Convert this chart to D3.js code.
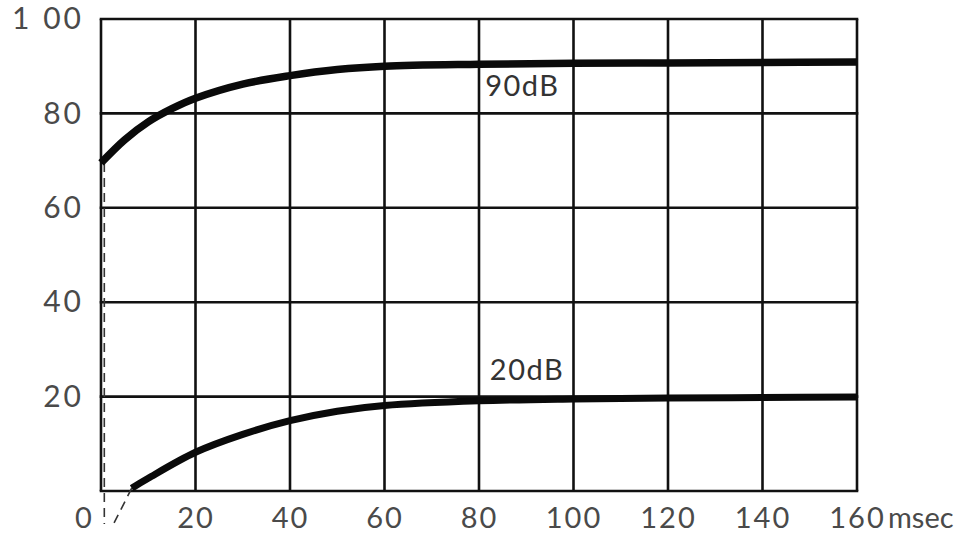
<!DOCTYPE html>
<html>
<head>
<meta charset="utf-8">
<script src="https://cdn.jsdelivr.net/npm/d3@7"></script>
<style>
  html, body { margin: 0; padding: 0; background: #fff; }
  svg { display: block; }
  text { font-family: "Lato", "DejaVu Sans", sans-serif; }
</style>
</head>
<body>
<svg id="chart" width="974" height="542"></svg>
<script>
// ---- data ----
const xTicks = [0, 20, 40, 60, 80, 100, 120, 140, 160];
const xTickLabels = ["0", "20", "40", "60", "80", "100", "120", "140", "160"];
const yTicks = [0, 20, 40, 60, 80, 100];
const yTickLabels = ["", "20", "40", "60", "80", "1 00"];
const xUnit = "msec";

const time90 = [0, 5, 10, 15, 20, 30, 40, 50, 60, 80, 100, 120, 140, 160];
const level90 = [69.5, 74.4, 78.2, 81.0, 83.2, 86.2, 88.0, 89.3, 90.0, 90.4, 90.6, 90.7, 90.8, 90.9];
const time20 = [6.5, 10, 20, 30, 40, 50, 60, 80, 100, 120, 140, 160];
const level20 = [0.6, 2.7, 8.2, 12.0, 14.9, 16.9, 18.1, 19.1, 19.5, 19.7, 19.8, 19.9];
const curveLabels = ["90dB", "20dB"];
const curveLabelPos = [[81.3, 86.2], [82.3, 26.0]]; // [time, level] anchor of each label

// dashed construction lines (time, level)
const guideVertical = [[0.7, 69.5], [0.7, -7]];
const guideDiagonal = [[6.5, 0.6], [2.4, -7.5]];

// ---- layout ----
const svg = d3.select("#chart");
const x = d3.scaleLinear().domain([0, 160]).range([101, 857]);
const y = d3.scaleLinear().domain([0, 100]).range([491, 19]);

const ink = "#111";
const labelInk = "#4a4a4a";

// grid
const grid = svg.append("g");
grid.selectAll("line.v").data(xTicks).join("line")
  .attr("x1", d => x(d)).attr("x2", d => x(d))
  .attr("y1", y(0)).attr("y2", y(100))
  .attr("stroke", ink).attr("stroke-width", 2.6);
grid.selectAll("line.h").data(yTicks).join("line")
  .attr("y1", d => y(d)).attr("y2", d => y(d))
  .attr("x1", x(0) - 1.3).attr("x2", x(160) + 1.3)
  .attr("stroke", ink).attr("stroke-width", 2.6);

// dashed guides
const gl = d3.line().x(d => x(d[0])).y(d => y(d[1]));
[guideVertical, guideDiagonal].forEach(g => {
  svg.append("path").attr("d", gl(g)).attr("fill", "none")
    .attr("stroke", "#333").attr("stroke-width", 1.6)
    .attr("stroke-dasharray", "9,6");
});

// curves
const line = d3.line().x(d => x(d[0])).y(d => y(d[1])).curve(d3.curveCatmullRom.alpha(0.5));
svg.append("path").attr("d", line(d3.zip(time90, level90)))
  .attr("fill", "none").attr("stroke", "#0a0a0a").attr("stroke-width", 7.5)
  .attr("stroke-linecap", "butt");
svg.append("path").attr("d", line(d3.zip(time20, level20)))
  .attr("fill", "none").attr("stroke", "#0a0a0a").attr("stroke-width", 7)
  .attr("stroke-linecap", "butt");

// curve labels
svg.selectAll("text.cl").data(curveLabels).join("text")
  .attr("class", "cl")
  .attr("x", (d, i) => x(curveLabelPos[i][0]))
  .attr("y", (d, i) => y(curveLabelPos[i][1]))
  .attr("dominant-baseline", "central")
  .attr("font-size", 29).attr("letter-spacing", 1.5).attr("fill", "#333")
  .text(d => d);

// y tick labels
const yAxis = d3.axisLeft(y).tickValues(yTicks).tickSize(0).tickPadding(17)
  .tickFormat((d, i) => yTickLabels[i]);
const ya = svg.append("g").attr("transform", `translate(${x(0)},0)`).call(yAxis);
ya.select(".domain").remove();
ya.selectAll("text").attr("font-size", 30).attr("fill", labelInk)
  .attr("font-family", "Lato, 'DejaVu Sans', sans-serif").attr("letter-spacing", 3);

// x tick labels
const xAxis = d3.axisBottom(x).tickValues(xTicks).tickSize(0).tickPadding(16)
  .tickFormat((d, i) => xTickLabels[i]);
const xa = svg.append("g").attr("transform", `translate(0,${y(0)})`).call(xAxis);
xa.select(".domain").remove();
xa.selectAll("text").attr("font-size", 29).attr("fill", labelInk)
  .attr("font-family", "Lato, 'DejaVu Sans', sans-serif").attr("letter-spacing", 2)
  .attr("dx", d => d === 0 ? -17 : 0);

// unit label after last tick
xa.append("text")
  .attr("x", x(160) + 31)
  .attr("y", 16)
  .attr("dy", "0.71em")
  .attr("text-anchor", "start")
  .attr("font-size", 29).attr("fill", labelInk)
  .attr("font-family", "Lato, 'DejaVu Sans', sans-serif")
  .text(xUnit);
</script>
</body>
</html>
